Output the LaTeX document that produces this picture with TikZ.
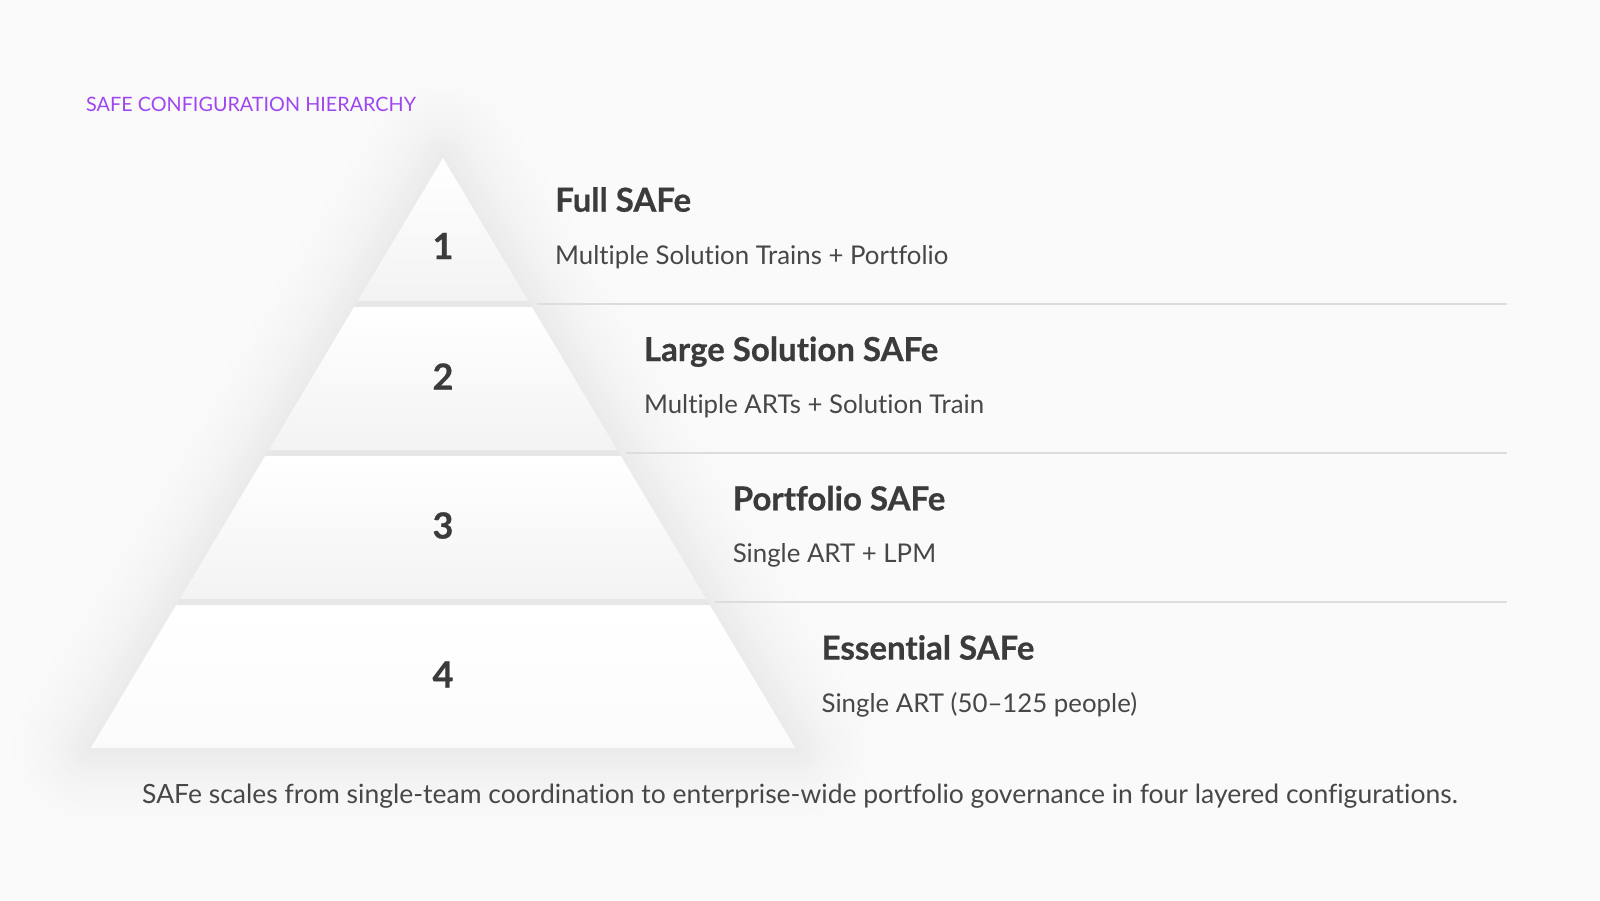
\documentclass[tikz,border=0pt]{standalone}
\usepackage{fontspec}
\setmainfont{Lato}[Ligatures={NoCommon,NoRequired,NoContextual},BoldFeatures={FakeBold=0.6}]
\definecolor{bg}{HTML}{FAFAFA}
\definecolor{ink}{HTML}{3B3B3B}
\definecolor{subink}{HTML}{474747}
\definecolor{accent}{HTML}{A046F0}
\definecolor{rulec}{HTML}{DDDDDD}
\definecolor{gapc}{HTML}{E7E7E7}
\definecolor{tierbot}{HTML}{F3F3F3}
\newcommand\tierpath[2]{({443-0.597*(#1-158)},#1) -- ({443+0.597*(#1-158)},#1) -- ({443+0.597*(#2-158)},#2) -- ({443-0.597*(#2-158)},#2) -- cycle}
\tikzset{
  numstyle/.style={inner sep=0pt, text=ink, font=\fontsize{36}{40}\selectfont\bfseries},
  titlestyle/.style={inner sep=0pt, anchor=base west, text=ink, font=\fontsize{33}{38}\selectfont\bfseries},
  substyle/.style={inner sep=0pt, anchor=base west, text=subink, font=\fontsize{25.8}{30}\selectfont},
  capstyle/.style={inner sep=0pt, anchor=base, text=subink, font=\fontsize{26.5}{30}\selectfont},
  headstyle/.style={inner sep=0pt, anchor=base west, text=accent, font=\fontsize{19.8}{22}\selectfont},
  rulestyle/.style={draw=rulec, line width=1.5pt},
  shadowlayer/.style={line join=round}
}
\begin{document}
\begin{tikzpicture}[x=1pt,y=-1pt]
\fill[bg] (0,0) rectangle (1600,900);
\useasboundingbox (0,0) rectangle (1600,900);

% soft shadow around the pyramid (solid layers, outer to inner)
\coordinate (apex) at (443,158);
\coordinate (bl) at (90.7,748);
\coordinate (br) at (795.3,748);
\begin{scope}[shift={(0,10)}]
\foreach \i in {32,31,...,1} {
  \pgfmathsetmacro\shp{6.5*(1-\i/32)^2}
  \pgfmathsetmacro\shw{6*\i}
  \filldraw[shadowlayer, draw=black!\shp!bg, fill=black!\shp!bg, line width=\shw pt] (apex) -- (bl) -- (br) -- cycle;
}
\end{scope}
\fill[gapc] (apex) -- (bl) -- (br) -- cycle;

% tiers
\shade[top color=white, bottom color=tierbot] \tierpath{158}{301};
\shade[top color=white, bottom color=tierbot] \tierpath{307}{450};
\shade[top color=white, bottom color=tierbot] \tierpath{456}{599};
\shade[top color=white, bottom color=white!70!tierbot] \tierpath{605}{748};

% tier numbers
\node[numstyle] (n1) at (443,246) {1};
\node[numstyle] (n2) at (443,376.5) {2};
\node[numstyle] (n3) at (443,525.5) {3};
\node[numstyle] (n4) at (443,674.5) {4};

% separator rules
\coordinate (r1s) at ({443+0.597*(304-158)+7},304);
\coordinate (r1e) at (1507,304);
\coordinate (r2s) at ({443+0.597*(453-158)+7},453);
\coordinate (r2e) at (1507,453);
\coordinate (r3s) at ({443+0.597*(602-158)+7},602);
\coordinate (r3e) at (1507,602);
\draw[rulestyle] (r1s) -- (r1e);
\draw[rulestyle] (r2s) -- (r2e);
\draw[rulestyle] (r3s) -- (r3e);

% labels
\node[titlestyle] (t1) at (555,211.7) {Full SAFe};
\node[substyle] (s1) at (555,264.3) {Multiple Solution Trains + Portfolio};
\node[titlestyle] (t2) at (643.8,361) {Large Solution SAFe};
\node[substyle] (s2) at (643.8,413.6) {Multiple ARTs + Solution Train};
\node[titlestyle] (t3) at (732.6,510.3) {Portfolio SAFe};
\node[substyle] (s3) at (732.6,562.9) {Single ART + LPM};
\node[titlestyle] (t4) at (821.4,659.6) {Essential SAFe};
\node[substyle] (s4) at (821.4,712.2) {Single ART (50–125 people)};

% header and caption
\node[headstyle] (hd) at (86,111) {SAFE CONFIGURATION HIERARCHY};
\node[capstyle] (cap) at (800,803.3) {SAFe scales from single-team coordination to enterprise-wide portfolio governance in four layered configurations.};
\end{tikzpicture}
\end{document}
